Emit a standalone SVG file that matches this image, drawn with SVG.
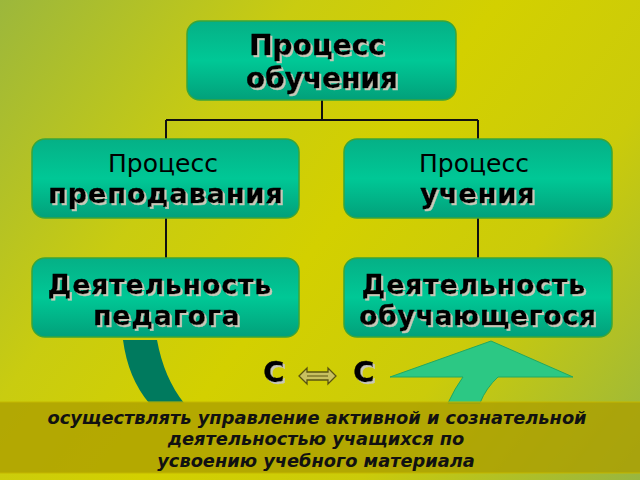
<svg xmlns="http://www.w3.org/2000/svg" width="640" height="480" viewBox="0 0 640 480">
<defs>
  <linearGradient id="bg" x1="0" y1="0" x2="640" y2="480" gradientUnits="userSpaceOnUse">
    <stop offset="0" stop-color="#9cb73c"/>
    <stop offset="0.3" stop-color="#c9cc10"/>
    <stop offset="0.5" stop-color="#d3d000"/>
    <stop offset="0.72" stop-color="#cbcb0a"/>
    <stop offset="1" stop-color="#98b640"/>
  </linearGradient>
  <linearGradient id="box" x1="0" y1="0" x2="0" y2="1">
    <stop offset="0" stop-color="#05b086"/>
    <stop offset="0.5" stop-color="#00c896"/>
    <stop offset="1" stop-color="#02a07a"/>
  </linearGradient>
  <filter id="sh" x="-10%" y="-20%" width="120%" height="150%">
    <feOffset in="SourceAlpha" dx="1.5" dy="1.5" result="o"/>
    <feFlood flood-color="#c8c8b8"/>
    <feComposite in2="o" operator="in" result="s"/>
    <feMerge><feMergeNode in="s"/><feMergeNode in="SourceGraphic"/></feMerge>
  </filter>
  <filter id="sh2" x="-10%" y="-20%" width="120%" height="150%">
    <feOffset in="SourceAlpha" dx="1" dy="1" result="o"/>
    <feFlood flood-color="#d0d0c0"/>
    <feComposite in2="o" operator="in" result="s"/>
    <feMerge><feMergeNode in="s"/><feMergeNode in="SourceGraphic"/></feMerge>
  </filter>
</defs>
<style>
  .box { fill: url(#box); stroke: #3aa53a; stroke-width: 1.5; }
  .t { font-family: "DejaVu Sans", "Liberation Sans", sans-serif; fill: #000; text-anchor: middle; }
  .b { font-weight: bold; filter: url(#sh); stroke: #000; stroke-width: 0.4; }
  .r { font-weight: normal; }
  .conn { fill: none; stroke: #111; stroke-width: 2; }
  .band { font-family: "DejaVu Sans", "Liberation Sans", sans-serif; font-weight: bold; font-style: italic; font-size: 17.8px; fill: #111; text-anchor: middle; }
</style>
<rect x="0" y="0" width="640" height="480" fill="url(#bg)"/>

<g id="connectors">
  <path class="conn" d="M322,100 V120 M166,120 H478 M166,120 V139 M478,120 V139 M166,218 V258 M478,218 V258"/>
</g>

<g id="n-top">
  <rect class="box" x="187" y="21" width="269" height="79" rx="13"/>
  <text class="t b" x="317" y="55" font-size="28">Процесс</text>
  <text class="t b" x="322" y="88" font-size="28">обучения</text>
</g>
<g id="n-teach">
  <rect class="box" x="32" y="139" width="267" height="79" rx="13"/>
  <text class="t r" x="163" y="172" font-size="25">Процесс</text>
  <text class="t b" x="166" y="203" font-size="27" letter-spacing="1">преподавания</text>
</g>
<g id="n-learn">
  <rect class="box" x="344" y="139" width="268" height="79" rx="13"/>
  <text class="t r" x="474" y="172" font-size="25">Процесс</text>
  <text class="t b" x="478" y="203" font-size="27" letter-spacing="1">учения</text>
</g>
<g id="n-ped">
  <rect class="box" x="32" y="258" width="267" height="79" rx="13"/>
  <text class="t b" x="160" y="294" font-size="26.5" letter-spacing="1">Деятельность</text>
  <text class="t b" x="167" y="325" font-size="26.5" letter-spacing="1">педагога</text>
</g>
<g id="n-stud">
  <rect class="box" x="344" y="258" width="268" height="79" rx="13"/>
  <text class="t b" x="474" y="294" font-size="26.5" letter-spacing="1">Деятельность</text>
  <text class="t b" x="478" y="325" font-size="26.5" letter-spacing="0.8">обучающегося</text>
</g>

<g id="arcs">
  <path d="M123,340 L157,340 Q164,378 184,403 L149,403 Q128,378 123,340 Z" fill="#007a5e"/>
  <path d="M491,341 L573,377 L498,377 Q486,388 480,403 L448,403 Q455,388 463,377 L390,377 Z" fill="#2cc884" stroke="#22a860" stroke-width="1"/>
</g>

<g id="cc">
  <text class="t b" x="274" y="382" font-size="29" filter="url(#sh2)">С</text>
  <text class="t b" x="364" y="382" font-size="29" filter="url(#sh2)">С</text>
  <path d="M299,376 L307,368 L307,372 L328,372 L328,368 L336,376 L328,384 L328,380 L307,380 L307,384 Z" fill="#c8c060" stroke="#5a5410" stroke-width="1.3"/>
  <path d="M307,376 H328" stroke="#5a5410" stroke-width="1"/>
</g>

<g id="band">
  <rect x="-1" y="402" width="642" height="71" fill="#ac9e00" fill-opacity="0.78" stroke="#c4b800" stroke-width="1"/>
  <text class="band" x="317" y="424">осуществлять управление активной и сознательной</text>
  <text class="band" x="316" y="445">деятельностью учащихся по</text>
  <text class="band" x="316" y="467">усвоению учебного материала</text>
</g>
</svg>
